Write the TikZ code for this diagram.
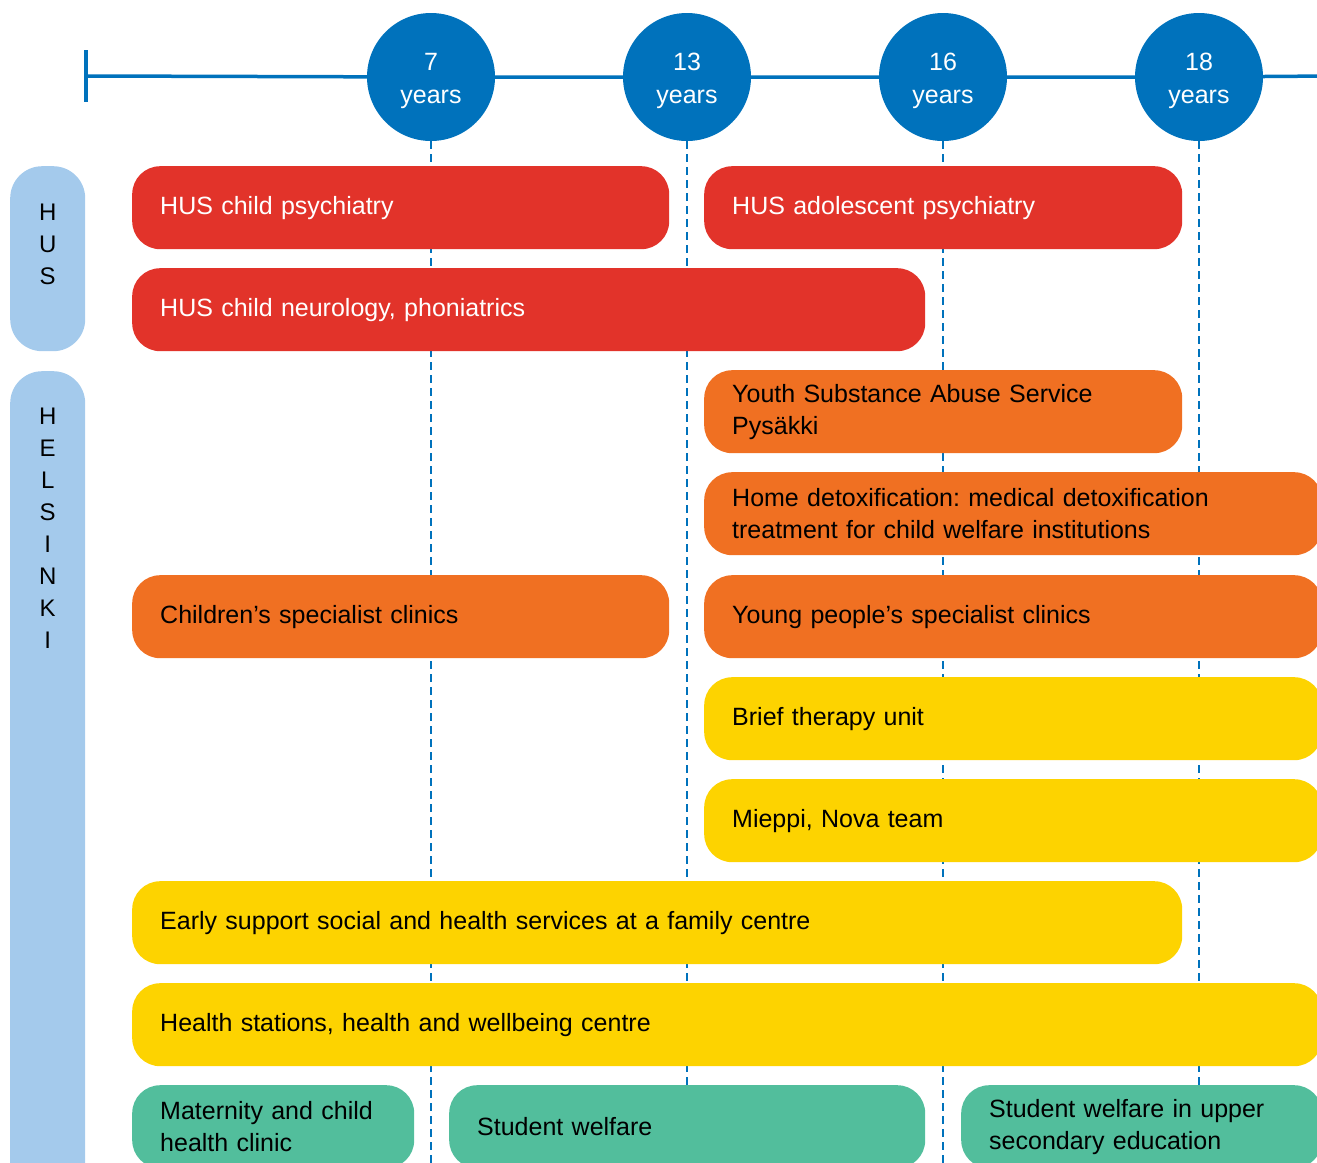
\documentclass[tikz,border=0pt]{standalone}
\usepackage{fontspec}
\setmainfont{Liberation Sans}
\usetikzlibrary{positioning}
\frenchspacing

\definecolor{tlblue}{HTML}{0072BC}
\definecolor{sideblue}{HTML}{A4CAEC}
\definecolor{husred}{HTML}{E2332A}
\definecolor{cityorange}{HTML}{F07022}
\definecolor{cityyellow}{HTML}{FDD300}
\definecolor{citygreen}{HTML}{52BE9C}

\tikzset{
  age/.style={circle, fill=tlblue, text=white, minimum size=128pt, inner sep=0pt,
    align=center, font=\fontsize{25}{33}\selectfont},
  agedash/.style={tlblue, line width=2.5pt, dash pattern=on 8pt off 5pt},
  sidebox/.style={anchor=north west, fill=sideblue, rounded corners=32pt,
    minimum width=75pt, inner sep=0pt},
  sidetext/.style={anchor=north, inner sep=0pt, align=center,
    font=\fontsize{24}{32}\selectfont},
  bar/.style={anchor=north west, rounded corners=28pt, minimum height=83pt,
    inner xsep=28pt, inner ysep=0pt, align=left, font=\fontsize{25}{32}\selectfont},
  redbar/.style={bar, fill=husred, text=white},
  orangebar/.style={bar, fill=cityorange},
  yellowbar/.style={bar, fill=cityyellow},
  greenbar/.style={bar, fill=citygreen}
}
\newcommand{\agetop}{\rule{0pt}{26pt}}

\begin{document}
\begin{tikzpicture}[x=1pt, y=-1pt]
\useasboundingbox (0,0) rectangle (1317,1162);
\clip (0,0) rectangle (1317,1162);

% age axis
\node[age] (c7) at (431,77) {\agetop7\\years};
\node[age] (c13) at (687,77) {\agetop13\\years};
\node[age] (c16) at (943,77) {\agetop16\\years};
\node[age] (c18) at (1199,77) {\agetop18\\years};
\coordinate (tstart) at (86,76);
\coordinate (tend) at (1330,76);
\coordinate (ttop) at (86,50);
\coordinate (tbot) at (86,102);
\draw[tlblue, line width=3.5pt] (tstart) -- (c7) -- (c13) -- (c16) -- (c18) -- (tend);
\draw[tlblue, line width=3.5pt] (ttop) -- (tbot);

\coordinate (b7) at (431,1170);
\coordinate (b13) at (687,1170);
\coordinate (b16) at (943,1170);
\coordinate (b18) at (1199,1170);
\draw[agedash] (c7) -- (b7);
\draw[agedash] (c13) -- (b13);
\draw[agedash] (c16) -- (b16);
\draw[agedash] (c18) -- (b18);

% organisations
\node[sidebox, minimum height=185pt] (husbox) at (10,166) {};
\node[sidetext, below=38pt of husbox.north] (huslabel) {H\\U\\S};
\node[sidebox, minimum height=840pt] (hkibox) at (10,371) {};
\node[sidetext, below=37pt of hkibox.north] (hkilabel) {H\\E\\L\\S\\I\\N\\K\\I};

% HUS services
\node[redbar, text width=481pt] (childpsy) at (132,166) {HUS child psychiatry};
\node[redbar, text width=422pt] (adolpsy) at (704,166) {HUS adolescent psychiatry};
\node[redbar, text width=737pt] (neuro) at (132,268) {HUS child neurology, phoniatrics};

% Helsinki services
\node[orangebar, text width=422pt] (pysakki) at (704,370) {Youth Substance Abuse Service\\Pysäkki};
\node[orangebar, text width=562pt] (detox) at (704,472) {Home detoxification: medical detoxification\\treatment for child welfare institutions};
\node[orangebar, text width=481pt] (childclin) at (132,575) {Children’s specialist clinics};
\node[orangebar, text width=562pt] (youngclin) at (704,575) {Young people’s specialist clinics};
\node[yellowbar, text width=562pt] (brief) at (704,677) {Brief therapy unit};
\node[yellowbar, text width=562pt] (mieppi) at (704,779) {Mieppi, Nova team};
\node[yellowbar, text width=994pt] (family) at (132,881) {Early support social and health services at a family centre};
\node[yellowbar, text width=1134pt] (health) at (132,983) {Health stations, health and wellbeing centre};
\node[greenbar, text width=226pt] (maternity) at (132,1085) {Maternity and child\\health clinic};
\node[greenbar, text width=420pt] (student) at (449,1085) {Student welfare};
\node[greenbar, text width=305pt] (upper) at (961,1085) {Student welfare in upper\\secondary education};
\end{tikzpicture}
\end{document}
